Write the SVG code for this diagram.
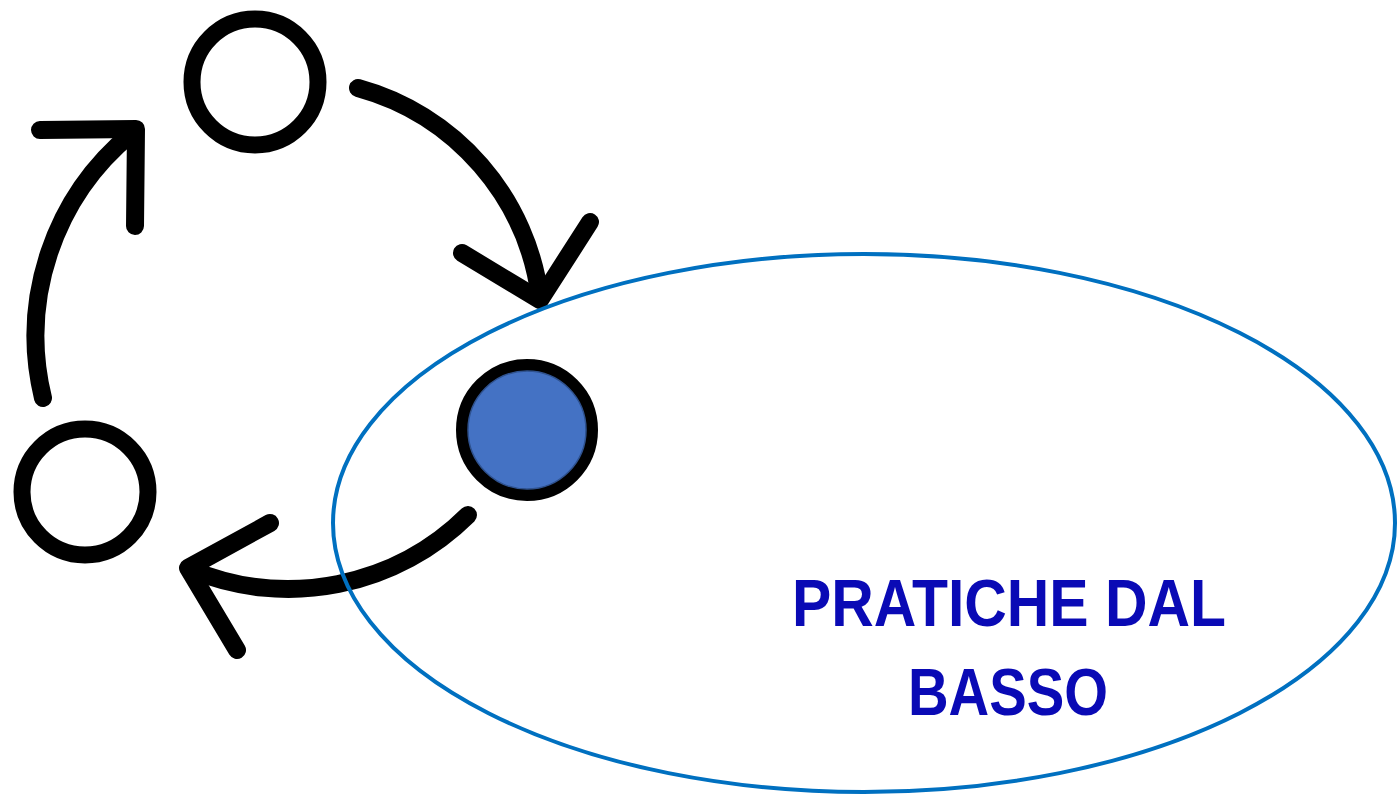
<svg xmlns="http://www.w3.org/2000/svg" width="1397" height="800" viewBox="0 0 1397 800">
  <style>
    .ring { fill: #ffffff; stroke: #000000; stroke-width: 17; }
    .arrow { fill: none; stroke: #000000; stroke-width: 18; stroke-linecap: round; stroke-linejoin: round; }
    .label { font-family: "Liberation Sans", Arial, sans-serif; font-weight: bold; font-size: 67px; fill: #0A0AB5; }
  </style>
  <rect width="1397" height="800" fill="#ffffff"/>
  <g id="connectors">
    <path class="arrow" d="M358,88 A250,250 0 0 1 540,298"/>
    <path class="arrow" d="M462,253 L540,300 L590,222"/>
    <path class="arrow" d="M43,398 A262,262 0 0 1 132,133"/>
    <path class="arrow" d="M40,130 L136,129 L135,226"/>
    <path class="arrow" d="M468,515 A255,255 0 0 1 192,570"/>
    <path class="arrow" d="M270,523 L188,568 L237,650"/>
  </g>
  <g id="node-top">
    <circle class="ring" cx="255" cy="82" r="63"/>
  </g>
  <g id="node-left">
    <circle class="ring" cx="85" cy="492" r="63"/>
  </g>
  <g id="node-blue">
    <circle cx="527" cy="430" r="65" fill="#4472C4" stroke="#000000" stroke-width="12"/>
    <circle cx="527" cy="430" r="59" fill="none" stroke="#2F528F" stroke-width="1.5"/>
  </g>
  <g id="node-ellipse">
    <ellipse cx="864" cy="523" rx="531" ry="269" fill="none" stroke="#0070C0" stroke-width="4"/>
    <text class="label" x="792" y="626" textLength="434" lengthAdjust="spacingAndGlyphs">PRATICHE DAL</text>
    <text class="label" x="908" y="715" textLength="200" lengthAdjust="spacingAndGlyphs">BASSO</text>
  </g>
</svg>
